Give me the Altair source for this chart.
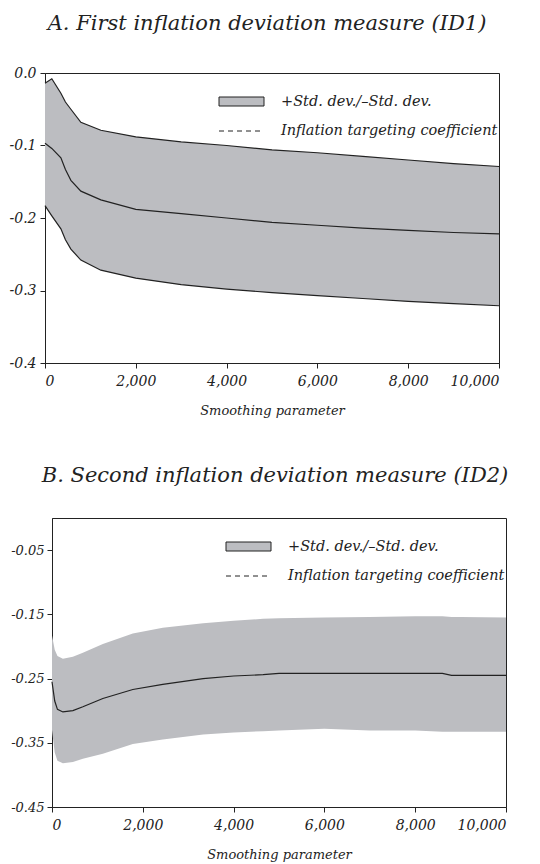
import altair as alt
import pandas as pd

# ---- Panel A data (ID1) ----
xa = [0, 150, 350, 450, 570, 790, 1230, 2000, 3000, 4000, 5000, 6000, 7000, 8000, 9000, 10000]
upper_a = [-0.014, -0.008, -0.028, -0.040, -0.050, -0.068, -0.079, -0.088, -0.095, -0.100, -0.106, -0.110, -0.115, -0.120, -0.125, -0.129]
mid_a = [-0.097, -0.104, -0.117, -0.133, -0.148, -0.163, -0.175, -0.188, -0.194, -0.200, -0.206, -0.210, -0.214, -0.217, -0.220, -0.222]
lower_a = [-0.183, -0.197, -0.215, -0.230, -0.243, -0.258, -0.272, -0.283, -0.292, -0.298, -0.303, -0.307, -0.311, -0.315, -0.318, -0.321]

# ---- Panel B data (ID2) ----
xb = [0, 60, 120, 240, 460, 680, 1120, 1780, 2440, 3330, 4000, 4650, 5000, 6000, 7000, 8000, 8600, 8800, 9000, 10000]
upper_b = [-0.183, -0.205, -0.215, -0.219, -0.216, -0.210, -0.196, -0.180, -0.171, -0.164, -0.160, -0.157, -0.156, -0.155, -0.154, -0.153, -0.153, -0.154, -0.154, -0.155]
mid_b = [-0.255, -0.285, -0.298, -0.302, -0.300, -0.294, -0.281, -0.267, -0.259, -0.250, -0.246, -0.244, -0.242, -0.242, -0.242, -0.242, -0.242, -0.245, -0.245, -0.245]
lower_b = [-0.330, -0.365, -0.378, -0.382, -0.380, -0.375, -0.367, -0.352, -0.345, -0.337, -0.334, -0.332, -0.331, -0.328, -0.331, -0.331, -0.333, -0.333, -0.333, -0.333]

x_ticks = [0, 2000, 4000, 6000, 8000, 10000]
ya_ticks = [0.0, -0.1, -0.2, -0.3, -0.4]
yb_ticks = [-0.05, -0.15, -0.25, -0.35, -0.45]

legend_band = "+Std. dev./\u2013Std. dev."
legend_line = "Inflation targeting coefficient"
title_a = "A. First inflation deviation measure (ID1)"
title_b = "B. Second inflation deviation measure (ID2)"
x_title = "Smoothing parameter"

FONT = "DejaVu Serif"
GRAY = "#bcbdc1"
INK = "#222222"

dfa = pd.DataFrame({"x": xa, "upper": upper_a, "mid": mid_a, "lower": lower_a})
dfb = pd.DataFrame({"x": xb, "upper": upper_b, "mid": mid_b, "lower": lower_b})
one = pd.DataFrame({"k": [0]})


def xenc():
    return alt.X("x:Q", scale=alt.Scale(domain=[0, 10000], nice=False),
                 axis=alt.Axis(values=x_ticks, format=",d", title=x_title,
                               labelPadding=6, titlePadding=16, labelFontSize=14))


def legend_layers():
    rect = alt.Chart(one).mark_rect(fill=GRAY, stroke=INK, strokeWidth=1).encode(
        x=alt.value(174), x2=alt.value(219), y=alt.value(24), y2=alt.value(33))
    rule = alt.Chart(one).mark_rule(color=INK, strokeDash=[5, 4], strokeWidth=1).encode(
        x=alt.value(174), x2=alt.value(219), y=alt.value(58))
    t1 = alt.Chart(one).mark_text(align="left", baseline="middle", font=FONT,
                                  fontStyle="italic", fontSize=14.5, color=INK).encode(
        x=alt.value(236), y=alt.value(29), text=alt.value(legend_band))
    t2 = alt.Chart(one).mark_text(align="left", baseline="middle", font=FONT,
                                  fontStyle="italic", fontSize=14.5, color=INK).encode(
        x=alt.value(236), y=alt.value(58), text=alt.value(legend_line))
    return [rect, rule, t1, t2]


def panel(df, domain, ticks, fmt, title, outline, h, ylab_size, ylab_pad, dx):
    yscale = alt.Scale(domain=domain, nice=False, zero=False)
    yaxis = alt.Axis(values=ticks, title=None, labelFontSize=ylab_size, labelPadding=ylab_pad,
                     labelExpr="replace(format(datum.value, '%s'), '\u2212', '-')" % fmt)
    base = alt.Chart(df)
    band = base.mark_area(color=GRAY, opacity=1).encode(
        x=xenc(), y=alt.Y("upper:Q", scale=yscale, axis=yaxis), y2="lower:Q")
    layers = [band]
    if outline:
        layers.append(base.mark_line(color=INK, strokeWidth=1.2).encode(x="x:Q", y="upper:Q"))
        layers.append(base.mark_line(color=INK, strokeWidth=1.2).encode(x="x:Q", y="lower:Q"))
    layers.append(base.mark_line(color=INK, strokeWidth=1.2).encode(x="x:Q", y="mid:Q"))
    layers += legend_layers()
    return alt.layer(*layers).properties(
        width=454, height=h,
        title=alt.TitleParams(title, font=FONT, fontStyle="italic", fontWeight="normal",
                              fontSize=21, anchor="middle", offset=32, color=INK, dx=dx))


pa = panel(dfa, [-0.4, 0.0], ya_ticks, ".1f", title_a, True, 290, 14, 4, -5)
pb = panel(dfb, [-0.45, 0.0], yb_ticks, ".2f", title_b, False, 289, 13, 3, -4)

# invisible 1px spacer so panel B's plot can sit a few pixels right of panel A's
spacer = alt.Chart(one).mark_point(opacity=0).encode(
    x=alt.value(0), y=alt.value(0)
).properties(width=1, height=1, view=alt.ViewBackground(stroke="transparent"))

chart = alt.vconcat(
    alt.hconcat(pa),
    alt.hconcat(spacer, pb, spacing=-39),
    spacing=46
).properties(
    padding={"left": 0, "top": 4, "right": 0, "bottom": 0}
).configure_view(
    stroke=INK, strokeWidth=1
).configure_axis(
    grid=False, domainColor=INK, tickColor=INK, tickSize=5,
    labelFont=FONT, labelFontStyle="italic", labelFontSize=14, labelColor=INK,
    titleFont=FONT, titleFontStyle="italic", titleFontWeight="normal", titleFontSize=13,
    titleColor=INK, labelPadding=4
)

chart.save("out.html", embed_options={"renderer": "svg", "actions": False})
